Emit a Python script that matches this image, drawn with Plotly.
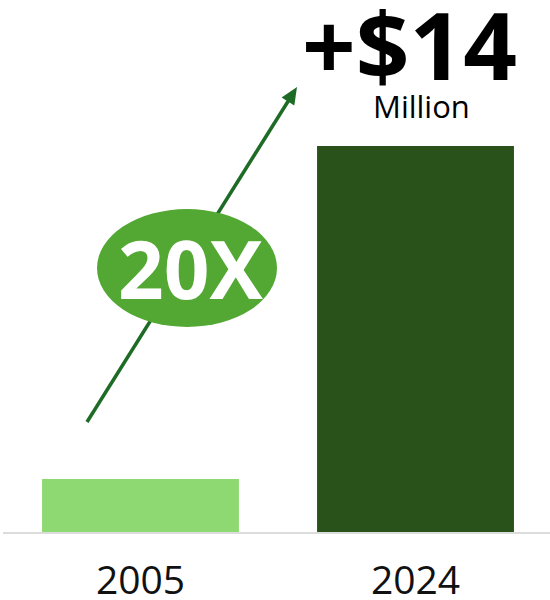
import plotly.graph_objects as go

# Revenue, millions of dollars
years = ["2005", "2024"]
revenue = [1.95, 14]
bar_colors = ["#8fd973", "#29521a"]
growth_label = "20X"

W, H = 550, 600
M_BOTTOM = 67
PLOT_H = H - M_BOTTOM

FONT = "Open Sans"


def px(x, y):
    """Convert page pixel position to paper coordinates of the plot area."""
    return x / W, (PLOT_H - y) / PLOT_H


fig = go.Figure(
    go.Bar(
        x=years,
        y=revenue,
        marker=dict(color=bar_colors, line=dict(width=0)),
        hoverinfo="skip",
    )
)

# Growth arrow (drawn as shapes so the ellipse sits on top of it)
tail = (87, 422)
tip = (297, 87)
dx, dy = tip[0] - tail[0], tip[1] - tail[1]
length = (dx * dx + dy * dy) ** 0.5
ux, uy = dx / length, dy / length
head_len, head_half = 17, 7.5
bx, by = tip[0] - head_len * ux, tip[1] - head_len * uy
p1 = (bx - head_half * uy, by + head_half * ux)
p2 = (bx + head_half * uy, by - head_half * ux)

arrow_color = "#1d6b25"
tx0, ty0 = px(*tail)
tx1, ty1 = px(bx + 2 * ux, by + 2 * uy)
shapes = [
    dict(type="line", xref="paper", yref="paper", x0=tx0, y0=ty0, x1=tx1, y1=ty1,
         line=dict(color=arrow_color, width=3.5)),
]
a, b, c = px(*tip), px(*p1), px(*p2)
shapes.append(dict(
    type="path", xref="paper", yref="paper",
    path=f"M {a[0]} {a[1]} L {b[0]} {b[1]} L {c[0]} {c[1]} Z",
    fillcolor=arrow_color, line=dict(width=0),
))

# Ellipse badge
e0, e1 = px(97, 209), px(277, 327)
shapes.append(dict(type="circle", xref="paper", yref="paper",
                   x0=e0[0], y0=e1[1], x1=e1[0], y1=e0[1],
                   fillcolor="#52a833", line=dict(width=0)))

# Baseline
b0, b1 = px(3, 533), px(550, 533)
shapes.append(dict(type="line", xref="paper", yref="paper",
                   x0=b0[0], y0=b0[1], x1=b1[0], y1=b1[1],
                   line=dict(color="#dcdcdc", width=2)))

annotations = []
gx, gy = px(190.5, 267)
annotations.append(dict(xref="paper", yref="paper", x=gx, y=gy, text=growth_label,
                        showarrow=False, xanchor="center", yanchor="middle",
                        font=dict(family=FONT, size=80, color="white", weight=700)))

lx, ly = px(409, 44)
annotations.append(dict(xref="paper", yref="paper", x=lx, y=ly,
                        text=f"+${revenue[1]:.0f}", showarrow=False,
                        xanchor="center", yanchor="middle",
                        font=dict(family=FONT, size=94, color="black", weight=700)))
mx, my = px(422, 106)
annotations.append(dict(xref="paper", yref="paper", x=mx, y=my, text="Million",
                        showarrow=False, xanchor="center", yanchor="middle",
                        font=dict(family=FONT, size=31, color="black")))

unit_px = 387 / revenue[1]
fig.update_layout(
    width=W, height=H,
    margin=dict(l=0, r=0, t=0, b=M_BOTTOM),
    paper_bgcolor="white", plot_bgcolor="white",
    bargap=0.284,
    showlegend=False,
    shapes=shapes,
    annotations=annotations,
    xaxis=dict(range=[-140.5 / 275, 1 + 134.5 / 275], showgrid=False, zeroline=False,
               showline=False, ticks="", ticklabelstandoff=21, automargin=False,
               tickfont=dict(family=FONT, size=39, color="#111")),
    yaxis=dict(range=[0, PLOT_H / unit_px], visible=False, automargin=False),
)

fig.write_html("out.html")
